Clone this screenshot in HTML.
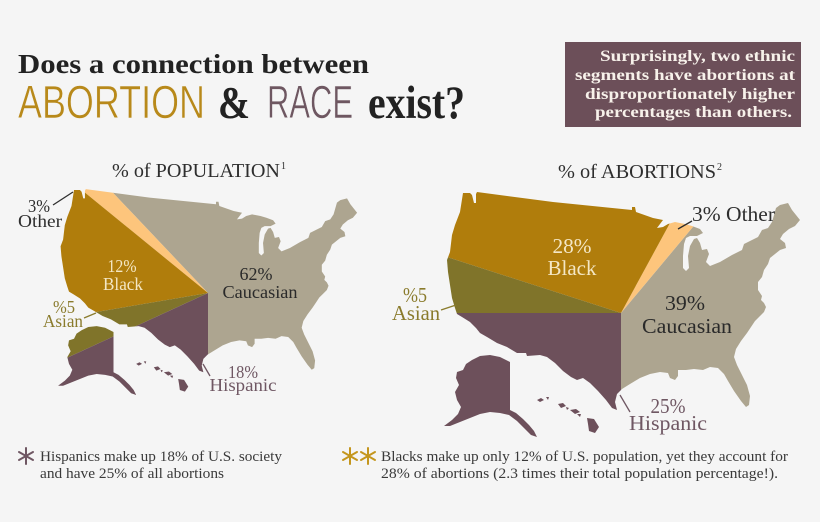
<!DOCTYPE html>
<html><head><meta charset="utf-8"><style>
html,body{margin:0;padding:0;background:#f5f5f5;width:820px;height:522px;overflow:hidden;}
svg{display:block;}
text{font-family:"Liberation Serif",serif;}
</style></head><body>
<svg width="820" height="522" viewBox="0 0 820 522" xmlns="http://www.w3.org/2000/svg">
<rect width="820" height="522" fill="#f5f5f5"/>
<defs>
<clipPath id="cR">
<path d="M463,193 L470,193 L472,195 L474,203 L476,203 L476,194 L477,192 L553,202 L632,210 L632,207 L635,207 L636,212 L653,218 L663,220 L657,228 L663,227 L668,224 L675,222 L685,224 L692,226 L700,229 L703,233 L697,236 L690,236 L686,238 L684,244 L683,256 L683,268 L686,271 L689,268 L688,256 L690,246 L694,239 L697,238 L700,243 L702,250 L707,249 L709,254 L706,262 L710,266 L720,262 L732,255 L742,250 L744,244 L752,240 L758,237 L762,230 L768,228 L772,222 L776,208 L780,205 L788,203 L792,210 L796,215 L800,220 L795,226 L789,229 L783,234 L780,239 L785,243 L786,248 L780,250 L775,254 L770,258 L768,264 L764,270 L762,277 L758,282 L758,290 L762,296 L761,300 L764,303 L766,307 L764,312 L760,316 L755,321 L751,327 L747,333 L741,341 L736,349 L734,357 L737,365 L742,375 L747,385 L750,396 L749,405 L746,407 L741,401 L734,391 L728,381 L724,374 L718,368 L710,367 L703,370 L694,369 L686,370 L678,370 L678,376 L675,380 L670,378 L668,373 L660,372 L650,374 L640,378 L630,384 L622,389 L617,394 L615,402 L617,410 L612,408 L606,400 L598,391 L590,383 L583,378 L577,380 L571,377 L563,371 L555,363 L547,357 L540,355 L527,356 L526,353 L517,353 L507,347 L497,343 L487,337 L480,333 L476,328 L470,322 L462,317 L457,314 L455,308 L452,298 L450,285 L448,272 L447,260 L450,252 L452,235 L455,225 L460,212 Z M480,356 L490,355 L500,357 L510,362 L510,410 L516,413 L523,419 L529,425 L534,431 L537,437 L531,435 L524,428 L517,421 L509,415 L500,413 L490,412 L480,414 L470,418 L460,422 L450,426 L444,426 L452,420 L458,414 L461,407 L457,400 L455,392 L459,385 L456,378 L457,372 L463,370 L466,364 L472,360 Z M537,400 L541,398 L544,400 L540,402 Z M546,397 L549,397 L548,400 Z M558,404 L563,403 L566,406 L561,408 Z M566,407 L569,408 L567,410 Z M570,410 L576,409 L580,412 L575,414 Z M577,414 L581,414 L580,417 Z M587,418 L594,419 L599,427 L595,433 L589,431 L588,424 Z"/>
</clipPath>
<clipPath id="cL">
<path transform="translate(-314.9 27.9) scale(0.84)" d="M463,193 L470,193 L472,195 L474,203 L476,203 L476,194 L477,192 L553,202 L632,210 L632,207 L635,207 L636,212 L653,218 L663,220 L657,228 L663,227 L668,224 L675,222 L685,224 L692,226 L700,229 L703,233 L697,236 L690,236 L686,238 L684,244 L683,256 L683,268 L686,271 L689,268 L688,256 L690,246 L694,239 L697,238 L700,243 L702,250 L707,249 L709,254 L706,262 L710,266 L720,262 L732,255 L742,250 L744,244 L752,240 L758,237 L762,230 L768,228 L772,222 L776,208 L780,205 L788,203 L792,210 L796,215 L800,220 L795,226 L789,229 L783,234 L780,239 L785,243 L786,248 L780,250 L775,254 L770,258 L768,264 L764,270 L762,277 L758,282 L758,290 L762,296 L761,300 L764,303 L766,307 L764,312 L760,316 L755,321 L751,327 L747,333 L741,341 L736,349 L734,357 L737,365 L742,375 L747,385 L750,396 L749,405 L746,407 L741,401 L734,391 L728,381 L724,374 L718,368 L710,367 L703,370 L694,369 L686,370 L678,370 L678,376 L675,380 L670,378 L668,373 L660,372 L650,374 L640,378 L630,384 L622,389 L617,394 L615,402 L617,410 L612,408 L606,400 L598,391 L590,383 L583,378 L577,380 L571,377 L563,371 L555,363 L547,357 L540,355 L527,356 L526,353 L517,353 L507,347 L497,343 L487,337 L480,333 L476,328 L470,322 L462,317 L457,314 L455,308 L452,298 L450,285 L448,272 L447,260 L450,252 L452,235 L455,225 L460,212 Z M480,356 L490,355 L500,357 L510,362 L510,410 L516,413 L523,419 L529,425 L534,431 L537,437 L531,435 L524,428 L517,421 L509,415 L500,413 L490,412 L480,414 L470,418 L460,422 L450,426 L444,426 L452,420 L458,414 L461,407 L457,400 L455,392 L459,385 L456,378 L457,372 L463,370 L466,364 L472,360 Z M537,400 L541,398 L544,400 L540,402 Z M546,397 L549,397 L548,400 Z M558,404 L563,403 L566,406 L561,408 Z M566,407 L569,408 L567,410 Z M570,410 L576,409 L580,412 L575,414 Z M577,414 L581,414 L580,417 Z M587,418 L594,419 L599,427 L595,433 L589,431 L588,424 Z"/>
</clipPath>
</defs>

<!-- Title -->
<text x="18" y="73" font-size="27" font-weight="bold" fill="#222" textLength="351" lengthAdjust="spacingAndGlyphs">Does a connection between</text>
<text x="18" y="118" style="font-family:'Liberation Sans',sans-serif" font-size="46" fill="#b8891a" stroke="#f5f5f5" stroke-width="0.6" textLength="187" lengthAdjust="spacingAndGlyphs">ABORTION</text>
<text x="218" y="118" font-size="45" font-weight="bold" fill="#222" textLength="32" lengthAdjust="spacingAndGlyphs">&amp;</text>
<text x="267" y="118" style="font-family:'Liberation Sans',sans-serif" font-size="46" fill="#6e5761" stroke="#f5f5f5" stroke-width="0.6" textLength="86" lengthAdjust="spacingAndGlyphs">RACE</text>
<text x="368" y="118" font-size="47" font-weight="bold" fill="#222" textLength="97" lengthAdjust="spacingAndGlyphs">exist?</text>

<!-- Title box -->
<rect x="565" y="42" width="236" height="85" fill="#6c4f59"/>
<g font-size="16" font-weight="bold" fill="#f7f1ea" text-anchor="end">
<text x="795" y="61" textLength="195" lengthAdjust="spacingAndGlyphs">Surprisingly, two ethnic</text>
<text x="795" y="80" textLength="220" lengthAdjust="spacingAndGlyphs">segments have abortions at</text>
<text x="795" y="99" textLength="210" lengthAdjust="spacingAndGlyphs">disproportionately higher</text>
<text x="792" y="117" textLength="197" lengthAdjust="spacingAndGlyphs">percentages than others.</text>
</g>

<!-- Map titles -->
<text x="112" y="177" font-size="20" fill="#2e2e2e" textLength="168" lengthAdjust="spacingAndGlyphs">% of POPULATION</text>
<text x="281" y="169" font-size="10" fill="#2e2e2e">1</text>
<text x="558" y="178" font-size="20" fill="#2e2e2e" textLength="158" lengthAdjust="spacingAndGlyphs">% of ABORTIONS</text>
<text x="717" y="170" font-size="10" fill="#2e2e2e">2</text>

<!-- Left map -->
<g clip-path="url(#cL)">
<polygon points="208,293 26,101 420,101 420,522 208,522" fill="#ada590"/>
<polygon points="208,293 0,123.3 0,101 26,101" fill="#fdc57c"/>
<polygon points="208,293 0,123.3 0,328.3" fill="#b07d0c"/>
<polygon points="208,293 0,328.3 0,388.7" fill="#80742a"/>
<polygon points="208,293 0,388.7 0,522 208,522" fill="#6d505b"/>
</g>

<!-- Right map -->
<g clip-path="url(#cR)">
<polygon points="621,313 763,143 820,143 820,520 621,520" fill="#ada590"/>
<polygon points="621,313 719,133 763,143" fill="#fdc57c"/>
<polygon points="621,313 719,133 300,133 300,209.7" fill="#b07d0c"/>
<polygon points="621,313 300,209.7 300,313" fill="#80742a"/>
<polygon points="621,313 300,313 300,520 621,520" fill="#6d505b"/>
</g>

<!-- Left labels -->
<g font-size="18" text-anchor="middle">
<text x="39" y="212" fill="#2e2e2e" textLength="22" lengthAdjust="spacingAndGlyphs">3%</text>
<text x="40" y="227" fill="#2e2e2e" textLength="44" lengthAdjust="spacingAndGlyphs">Other</text>
<text x="122" y="272" fill="#f4e7c5" textLength="29" lengthAdjust="spacingAndGlyphs">12%</text>
<text x="123" y="290" fill="#f4e7c5" textLength="40" lengthAdjust="spacingAndGlyphs">Black</text>
<text x="256" y="280" fill="#2a2a2a" textLength="33" lengthAdjust="spacingAndGlyphs">62%</text>
<text x="260" y="298" fill="#2a2a2a" textLength="75" lengthAdjust="spacingAndGlyphs">Caucasian</text>
<text x="64" y="313" fill="#8a7b2c" textLength="22" lengthAdjust="spacingAndGlyphs">%5</text>
<text x="63" y="327" fill="#8a7b2c" textLength="40" lengthAdjust="spacingAndGlyphs">Asian</text>
<text x="243" y="378" fill="#6f5763" textLength="30" lengthAdjust="spacingAndGlyphs">18%</text>
<text x="243" y="391" fill="#6f5763" textLength="67" lengthAdjust="spacingAndGlyphs">Hispanic</text>
</g>
<line x1="53" y1="205" x2="73" y2="192" stroke="#2e2e2e" stroke-width="1.3"/>
<line x1="84" y1="318" x2="96" y2="313" stroke="#8a7b2c" stroke-width="1.3"/>
<line x1="203" y1="364" x2="210" y2="376" stroke="#6f5763" stroke-width="1.3"/>

<!-- Right labels -->
<g font-size="21" text-anchor="middle">
<text x="572" y="253" fill="#f4e7c5" textLength="39" lengthAdjust="spacingAndGlyphs">28%</text>
<text x="572" y="275" fill="#f4e7c5" textLength="49" lengthAdjust="spacingAndGlyphs">Black</text>
<text x="415" y="302" fill="#8a7b2c" textLength="24" lengthAdjust="spacingAndGlyphs">%5</text>
<text x="416" y="320" fill="#8a7b2c" textLength="48" lengthAdjust="spacingAndGlyphs">Asian</text>
<text x="685" y="310" fill="#2a2a2a" textLength="40" lengthAdjust="spacingAndGlyphs">39%</text>
<text x="687" y="333" fill="#2a2a2a" textLength="90" lengthAdjust="spacingAndGlyphs">Caucasian</text>
<text x="668" y="413" fill="#6f5763" textLength="35" lengthAdjust="spacingAndGlyphs">25%</text>
<text x="668" y="430" fill="#6f5763" textLength="78" lengthAdjust="spacingAndGlyphs">Hispanic</text>
</g>
<text x="692" y="221" font-size="21" fill="#2e2e2e" textLength="83" lengthAdjust="spacingAndGlyphs">3% Other</text>
<line x1="678" y1="229" x2="692" y2="221" stroke="#2e2e2e" stroke-width="1.3"/>
<line x1="441" y1="310" x2="456" y2="305" stroke="#8a7b2c" stroke-width="1.3"/>
<line x1="620" y1="395" x2="630" y2="412" stroke="#6f5763" stroke-width="1.3"/>

<!-- Bottom notes -->
<g stroke="#6f5763" stroke-width="2" stroke-linecap="round">
<line x1="26" y1="448" x2="26" y2="464"/>
<line x1="19" y1="452" x2="33" y2="460"/>
<line x1="19" y1="460" x2="33" y2="452"/>
</g>
<g stroke="#c4961e" stroke-width="2" stroke-linecap="round">
<line x1="350" y1="448" x2="350" y2="464"/>
<line x1="343" y1="452" x2="357" y2="460"/>
<line x1="343" y1="460" x2="357" y2="452"/>
<line x1="368" y1="448" x2="368" y2="464"/>
<line x1="361" y1="452" x2="375" y2="460"/>
<line x1="361" y1="460" x2="375" y2="452"/>
</g>
<g font-size="15" fill="#3a3a3a">
<text x="40" y="461" textLength="242" lengthAdjust="spacingAndGlyphs">Hispanics make up 18% of U.S. society</text>
<text x="40" y="478" textLength="184" lengthAdjust="spacingAndGlyphs">and have 25% of all abortions</text>
<text x="381" y="461" textLength="407" lengthAdjust="spacingAndGlyphs">Blacks make up only 12% of U.S. population, yet they account for</text>
<text x="381" y="478" textLength="397" lengthAdjust="spacingAndGlyphs">28% of abortions (2.3 times their total population percentage!).</text>
</g>
</svg>
</body></html>
